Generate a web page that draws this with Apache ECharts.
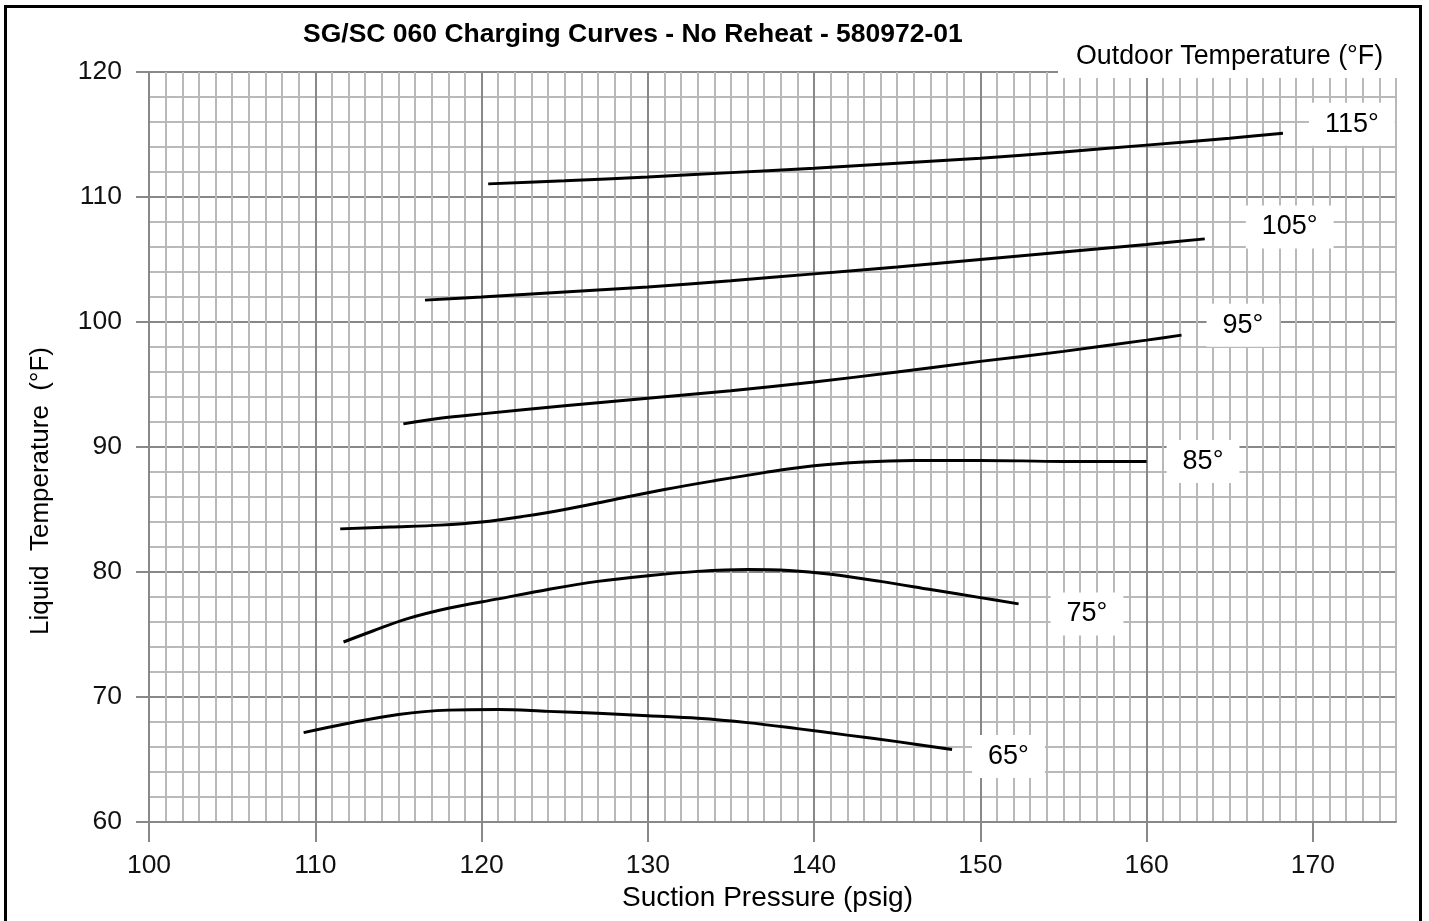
<!DOCTYPE html>
<html>
<head>
<meta charset="utf-8">
<title>SG/SC 060 Charging Curves</title>
<script src="https://cdn.jsdelivr.net/npm/echarts@6/dist/echarts.min.js"></script>
<style>
  html, body { margin: 0; padding: 0; background: #fff; }
  #chart { width: 1429px; height: 921px; }
</style>
</head>
<body>
<div id="chart"></div>
<script>
// suction pressure (psig), liquid temperature (F)
var curve65 = [[109.3, 67.15], [112, 67.9], [115, 68.6], [118, 68.95], [121, 69.0], [124, 68.85],
    [127, 68.7], [130, 68.5], [133, 68.3], [136, 67.95], [139, 67.47], [142, 66.95], [145, 66.43], [148.3, 65.8]];
var curve75 = [[111.7, 74.4], [113.5, 75.3], [115.5, 76.25], [118, 77.1], [121, 77.85], [124, 78.6],
    [127, 79.25], [130, 79.7], [133, 80.05], [136, 80.2], [138.5, 80.12], [141, 79.82], [144, 79.25],
    [147, 78.6], [150, 77.95], [152.3, 77.45]];
var curve85 = [[111.5, 83.45], [114.5, 83.6], [117.5, 83.75], [120, 84.0], [122.5, 84.45], [125, 85.0],
    [128, 85.8], [131, 86.6], [134, 87.3], [137, 87.95], [140, 88.5], [143, 88.8], [146, 88.92],
    [150, 88.93], [155, 88.85], [160, 88.85]];
var curve95 = [[115.3, 91.85], [117.5, 92.3], [120, 92.65], [125, 93.3], [130, 93.9], [135, 94.5],
    [140, 95.2], [145, 96.0], [150, 96.85], [155, 97.65], [160, 98.55], [162.1, 98.95]];
var curve105 = [[116.6, 101.75], [120, 102.0], [125, 102.4], [130, 102.8], [135, 103.3], [140, 103.85],
    [145, 104.4], [150, 105.0], [155, 105.6], [160, 106.2], [163.5, 106.65]];
var curve115 = [[120.4, 111.05], [125, 111.3], [130, 111.6], [135, 111.95], [140, 112.3], [145, 112.7],
    [150, 113.1], [155, 113.6], [160, 114.15], [165, 114.7], [168.2, 115.1]];

var curveNames = ['65°', '75°', '85°', '95°', '105°', '115°'];
var curveData = [curve65, curve75, curve85, curve95, curve105, curve115];
var xTicks = [100, 110, 120, 130, 140, 150, 160, 170];
// where each label box sits relative to the end of its curve
var labelOffsets = [[20, 7], [32, 10], [20, 0], [25, -10], [41, -12], [26, -9]];

var FONT = "'Liberation Sans', Arial, sans-serif";
var MAJOR = '#888888';
var MINOR = '#b9b9b9';

var ChartCharging = function (chartId) {
    this._dom = document.getElementById(chartId);
    this._chartDom = echarts.init(this._dom, null, { renderer: 'canvas' });
    this._chartOptions = {
        animation: false,
        backgroundColor: '#fff',
        textStyle: { fontFamily: FONT },
        title: [
            {
                text: 'SG/SC 060 Charging Curves - No Reheat - 580972-01',
                left: 303,
                top: 21,
                padding: 0,
                textStyle: { fontFamily: FONT, fontSize: 26.5, fontWeight: 'bold', color: '#000' }
            },
            {
                text: 'Outdoor Temperature (°F)',
                left: 1058,
                top: 36,
                padding: [7, 16, 8, 18],
                backgroundColor: '#fff',
                textStyle: { fontFamily: FONT, fontSize: 26.8, fontWeight: 'normal', color: '#000' }
            }
        ],
        grid: { left: 149, top: 72, right: 33, bottom: 99, containLabel: false },
        xAxis: [
            {
                // minor grid, every 1 psig
                type: 'value',
                position: 'top',
                min: 100,
                max: 175,
                interval: 1,
                axisLine: { show: false },
                axisTick: { show: false },
                axisLabel: { show: false },
                splitLine: { show: true, lineStyle: { color: MINOR, width: 2 } },
                z: 0
            },
            {
                type: 'value',
                position: 'bottom',
                min: 100,
                max: 175,
                interval: 10,
                name: 'Suction Pressure (psig)',
                nameLocation: 'middle',
                nameGap: 56,
                nameTextStyle: { fontFamily: FONT, fontSize: 28, color: '#000', padding: [0, 10, 0, 0] },
                axisLine: { show: true, onZero: false, lineStyle: { color: MAJOR, width: 2 } },
                axisTick: { show: true, length: 20, customValues: xTicks, lineStyle: { color: MAJOR, width: 2 } },
                axisLabel: {
                    margin: 30,
                    customValues: xTicks,
                    fontFamily: FONT,
                    fontSize: 26.5,
                    color: '#111',
                    formatter: function (v) { return v % 10 === 0 ? String(v) : ''; }
                },
                splitLine: { show: true, showMaxLine: false, lineStyle: { color: MAJOR, width: 2 } },
                z: 1
            }
        ],
        yAxis: {
            type: 'value',
            min: 60,
            max: 120,
            interval: 10,
            axisLine: { show: true, onZero: false, lineStyle: { color: MAJOR, width: 2 } },
            axisTick: { show: true, length: 13, lineStyle: { color: MAJOR, width: 2 } },
            axisLabel: { margin: 27, fontFamily: FONT, fontSize: 26.5, color: '#111' },
            splitLine: { show: true, lineStyle: { color: MAJOR, width: 2 } },
            minorTick: { show: false, splitNumber: 5 },
            minorSplitLine: { show: true, lineStyle: { color: MINOR, width: 2 } }
        },
        graphic: [
            {
                type: 'text',
                x: 41,
                y: 491,
                rotation: Math.PI / 2,
                style: {
                    text: 'Liquid  Temperature  (°F)',
                    fontFamily: FONT,
                    fontSize: 26,
                    fill: '#000',
                    align: 'center',
                    verticalAlign: 'middle'
                }
            },
            {
                type: 'rect',
                z: 100,
                shape: { x: 5.5, y: 6.5, width: 1415, height: 940 },
                style: { fill: 'none', stroke: '#000', lineWidth: 3 }
            }
        ],
        series: []
    };
    for (var i = 0; i < curveData.length; i++) {
        this._chartOptions.series.push({
            name: curveNames[i],
            type: 'line',
            xAxisIndex: 1,
            data: curveData[i],
            smooth: 0.35,
            showSymbol: false,
            symbol: 'none',
            lineStyle: { color: '#000', width: 3 },
            endLabel: {
                show: true,
                formatter: curveNames[i],
                distance: 0,
                offset: labelOffsets[i],
                fontFamily: FONT,
                fontSize: 27,
                color: '#000',
                backgroundColor: '#fff',
                padding: [8, 16]
            },
            z: 5
        });
    }
    return this;
};
ChartCharging.prototype.render = function () {
    this._chartDom.setOption(this._chartOptions, true);
};

var chart = new ChartCharging('chart');
chart.render();
</script>
</body>
</html>
